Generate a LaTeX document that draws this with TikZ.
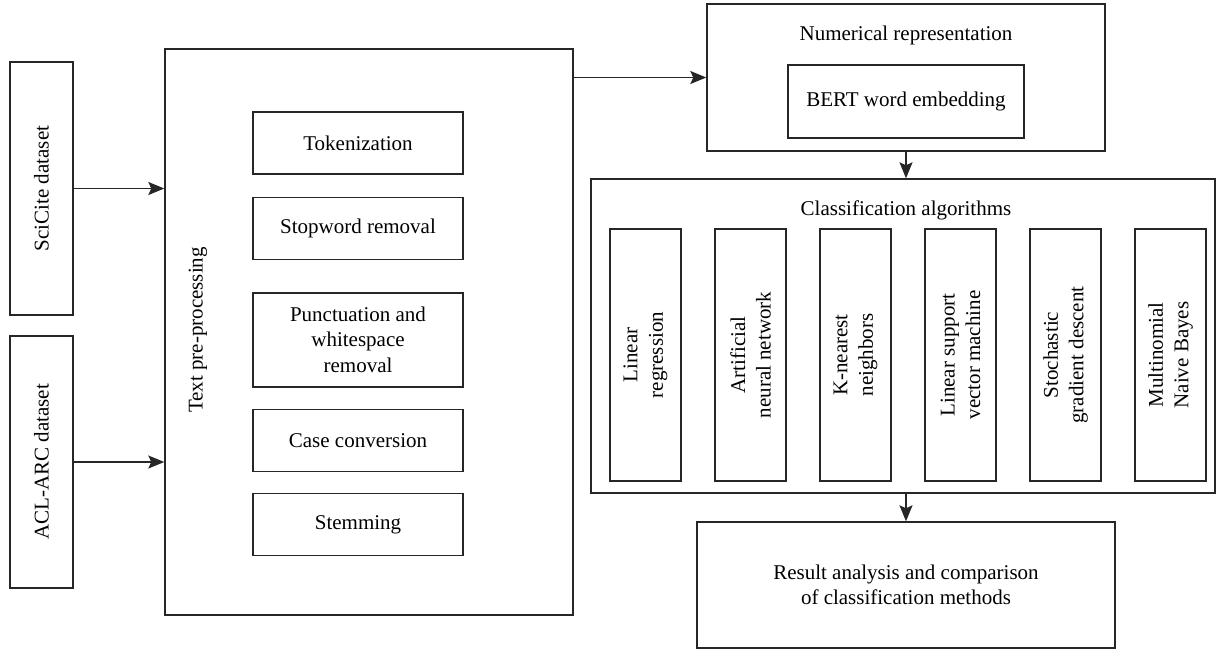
\documentclass[tikz,border=0pt]{standalone}
\usepackage{fontspec}
\setmainfont{Liberation Serif}
\usetikzlibrary{arrows.meta,positioning}
\definecolor{Ink}{HTML}{262626}

\begin{document}
\begin{tikzpicture}[
  x=1pt, y=-1pt,
  font=\fontsize{21}{25.5}\selectfont,
  box/.style={
    draw=Ink,
    line width=1.4pt,
    align=center,
    inner sep=0pt
  },
  stepbox/.style={box,minimum width=210pt,minimum height=62pt},
  vbox/.style={box,rotate=90},
  algbox/.style={vbox,minimum width=252pt,minimum height=71pt},
  arrow/.style={-{Stealth[length=16pt,width=13pt,inset=3pt]},line width=1.4pt,color=Ink}
]
\useasboundingbox (0,0) rectangle (1216,649);

% datasets
\node[vbox,minimum width=253pt,minimum height=63pt] (scicite) at (41.5,188.5) {SciCite dataset};
\node[vbox,minimum width=252pt,minimum height=63pt] (aclarc) at (41.5,462) {ACL-ARC dataset};

% pre-processing
\node[box,minimum width=408pt,minimum height=566pt] (prep) at (369,332) {};
\node[rotate=90] (preptitle) at (198,330) {Text pre-processing};
\node[stepbox] (token) at (358,143) {Tokenization};
\node[stepbox,below=22pt of token] (stopword) {Stopword removal};
\node[stepbox,minimum height=94pt,below=32pt of stopword] (punct) {Punctuation and\\whitespace\\removal};
\node[stepbox,below=21pt of punct] (casecv) {Case conversion};
\node[stepbox,below=21pt of casecv] (stem) {Stemming};

% representation
\node[box,minimum width=398pt,minimum height=147pt] (numrep) at (906,77.5) {};
\node (numtitle) at (906,35) {Numerical representation};
\node[box,minimum width=236pt,minimum height=73pt] (bert) at (906,101.5) {BERT word embedding};

% classifiers
\node[box,minimum width=624pt,minimum height=314pt] (classif) at (903,336) {};
\node (clstitle) at (906,210) {Classification algorithms};
\node[algbox] (linreg) at (645.5,355) {Linear\\regression};
\node[algbox] (ann) at (750.5,355) {Artificial\\neural network};
\node[algbox] (knn) at (855.5,355) {K-nearest\\neighbors};
\node[algbox] (svm) at (960.5,355) {Linear support\\vector machine};
\node[algbox] (sgd) at (1065.5,355) {Stochastic\\gradient descent};
\node[algbox] (mnb) at (1170.5,355) {Multinomial\\Naive Bayes};

% result
\node[box,minimum width=418pt,minimum height=126pt] (result) at (906,585) {Result analysis and comparison\\of classification methods};

\draw[arrow] (scicite) -- (scicite -| prep.west);
\draw[arrow] (aclarc) -- (aclarc -| prep.west);
\draw[arrow] (numrep -| prep.east) -- (numrep.west);
\draw[arrow] (numrep.south) -- (numrep.south |- classif.north);
\draw[arrow] (result.north |- classif.south) -- (result.north);
\end{tikzpicture}
\end{document}
